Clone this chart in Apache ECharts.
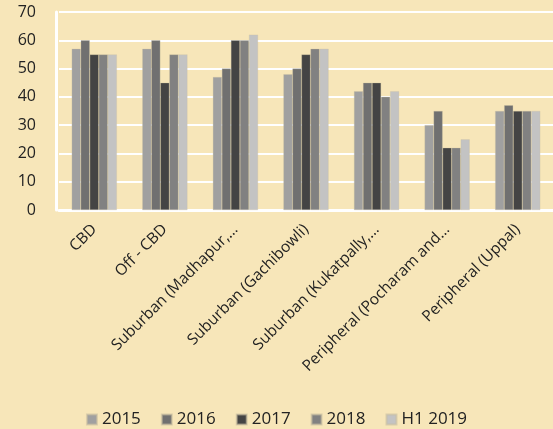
<!DOCTYPE html>
<html>
<head>
<meta charset="utf-8">
<script src="https://cdn.jsdelivr.net/npm/echarts@6/dist/echarts.min.js"></script>
<style>
html, body { margin: 0; padding: 0; background: #f7e6b9; }
#chart { width: 553px; height: 429px; }
</style>
</head>
<body>
<div id="chart"></div>
<script>
const categories = ["CBD", "Off - CBD", "Suburban (Madhapur,…", "Suburban (Gachibowli)", "Suburban (Kukatpally,…", "Peripheral (Pocharam and…", "Peripheral (Uppal)"];
const s2015 = [57, 57, 47, 48, 42, 30, 35];
const s2016 = [60, 60, 50, 50, 45, 35, 37];
const s2017 = [55, 45, 60, 55, 45, 22, 35];
const s2018 = [55, 55, 60, 57, 40, 22, 35];
const sH12019 = [55, 55, 62, 57, 42, 25, 35];
const seriesNames = ["2015", "2016", "2017", "2018", "H1 2019"];
const colors = ["#a0a0a0", "#707070", "#444444", "#818181", "#c3c3c3"];

const chart = echarts.init(document.getElementById("chart"));
const font = "'Open Sans', sans-serif";
const allData = [s2015, s2016, s2017, s2018, sH12019];

chart.setOption({
    backgroundColor: "#f7e6b9",
    animation: false,
    color: colors,
    legend: {
        top: 406,
        left: "center",
        itemWidth: 10,
        itemHeight: 10,
        itemGap: 20,
        icon: "rect",
        textStyle: { fontFamily: font, fontSize: 17, color: "#222" },
        data: seriesNames
    },
    grid: {
        left: 59,
        top: 12,
        width: 501,
        height: 198,
        containLabel: false
    },
    xAxis: {
        type: "category",
        data: categories,
        axisLine: { show: true, lineStyle: { color: "#ffffff", width: 3 } },
        axisTick: { show: false },
        axisLabel: {
            rotate: 45,
            interval: 0,
            fontFamily: font,
            fontSize: 15.5,
            color: "#222",
            margin: 17
        }
    },
    yAxis: {
        type: "value",
        min: 0,
        max: 70,
        interval: 10,
        offset: 3,
        axisLine: { show: true, lineStyle: { color: "#ffffff", width: 3 } },
        axisTick: { show: false },
        axisLabel: { fontFamily: font, fontSize: 16, color: "#222", margin: 20 },
        splitLine: { lineStyle: { color: "#ffffff", width: 2 } }
    },
    series: allData.map((d, i) => ({
        name: seriesNames[i],
        type: "bar",
        data: d,
        barGap: "0%",
        barCategoryGap: "36%",
        itemStyle: { borderColor: "rgba(200,190,160,0.6)", borderWidth: 0.5 }
    }))
});
</script>
</body>
</html>
